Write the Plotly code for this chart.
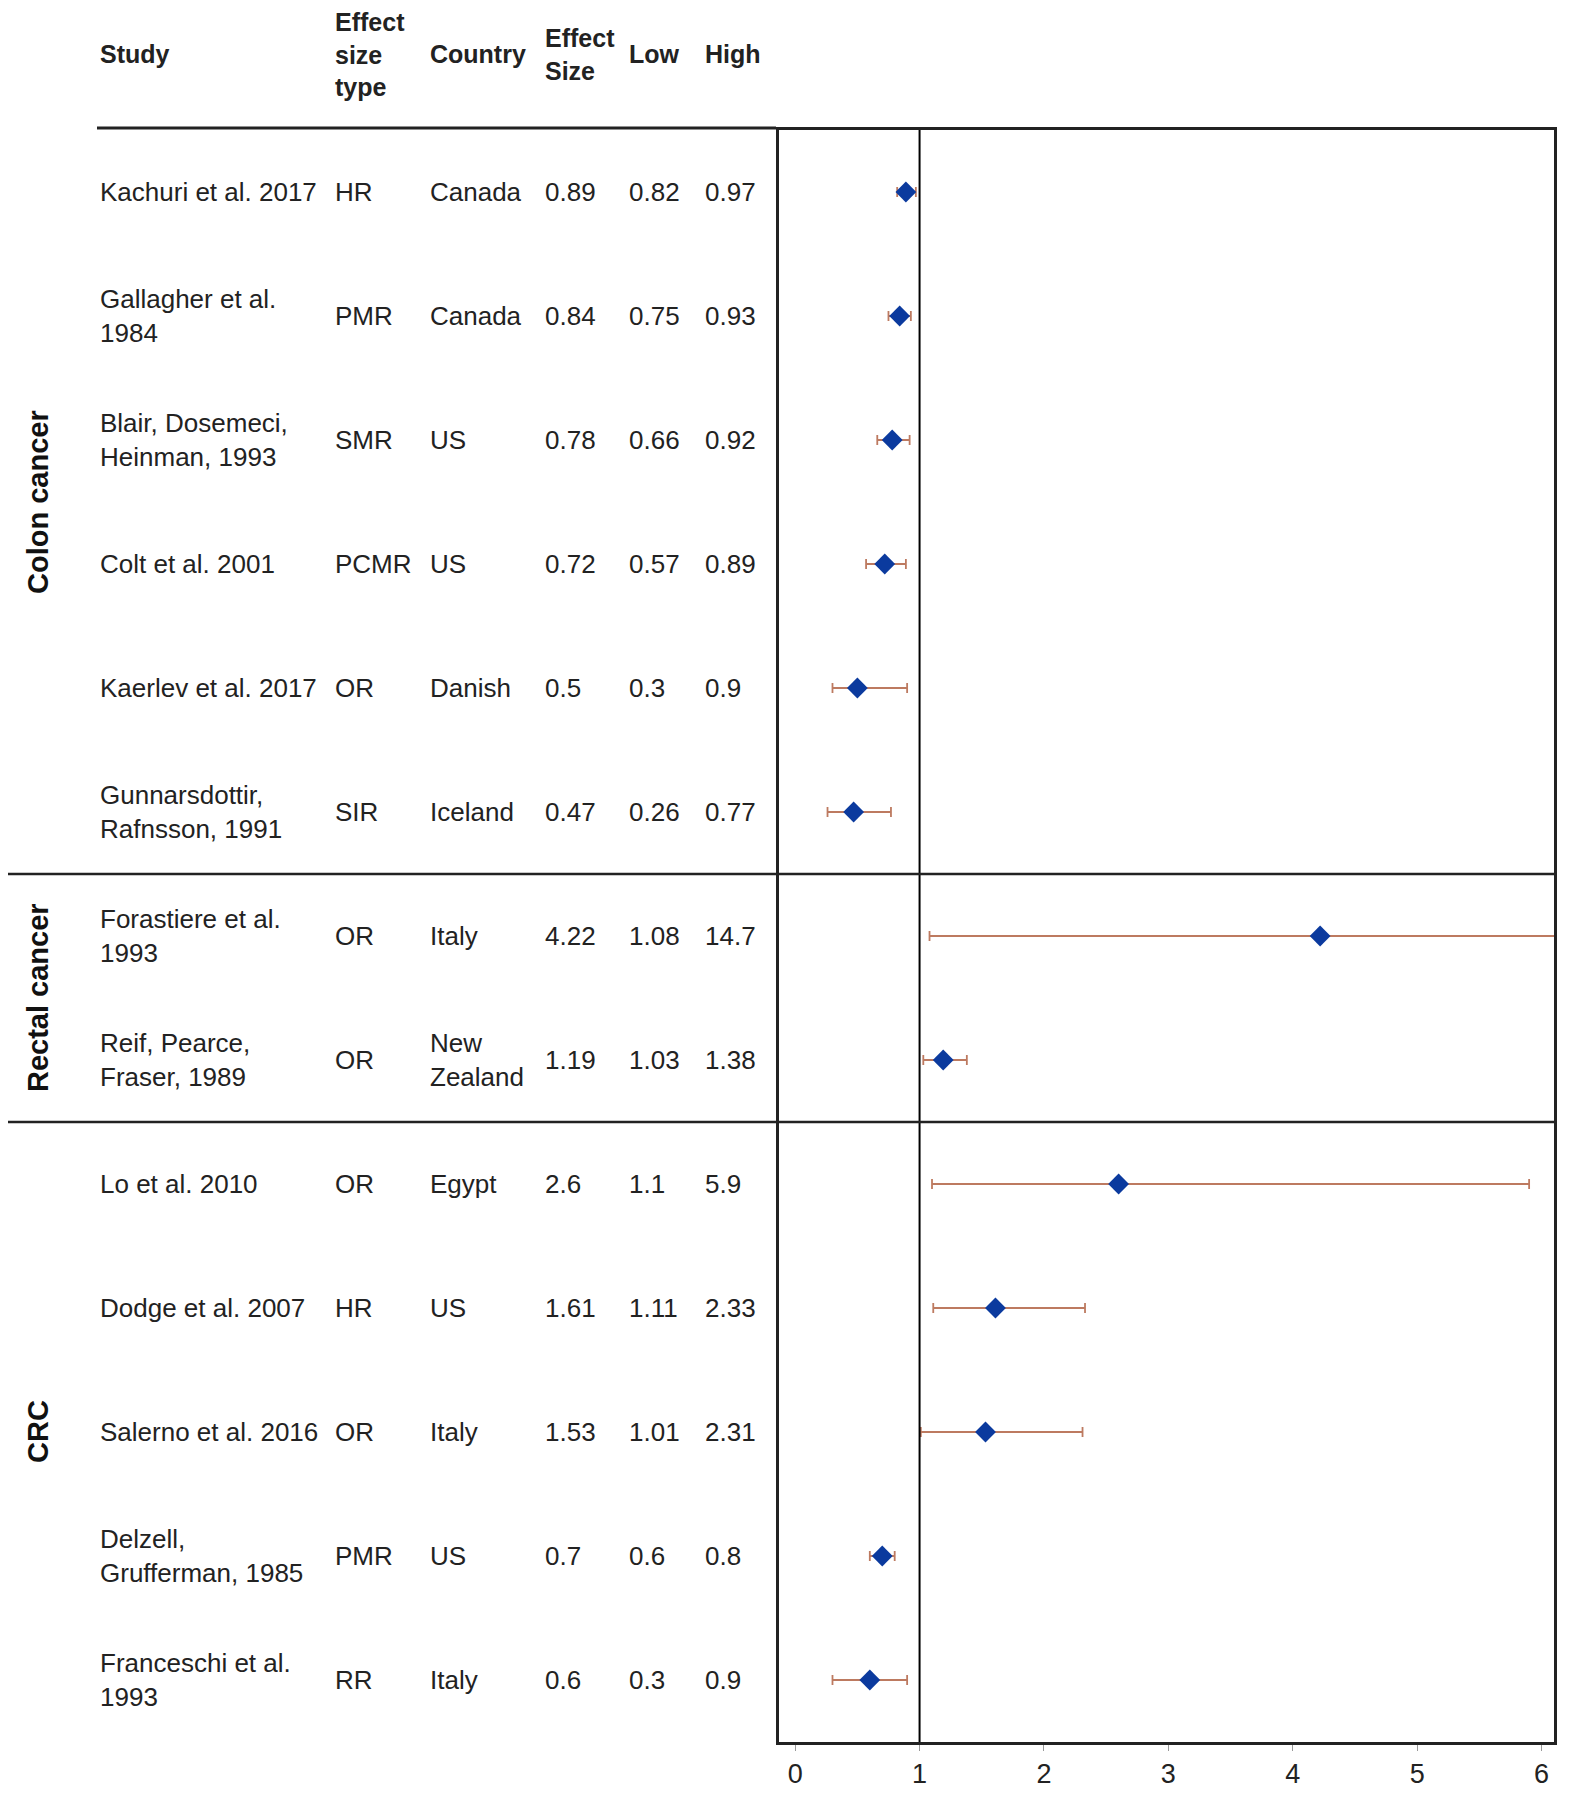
# Forest plot: occupational exposure and colorectal cancer studies
import plotly.graph_objects as go

# -------------------
# Data
# -------------------
studies = [
    "Kachuri et al. 2017", "Gallagher et al.<br>1984", "Blair, Dosemeci,<br>Heinman, 1993",
    "Colt et al. 2001", "Kaerlev et al. 2017", "Gunnarsdottir,<br>Rafnsson, 1991",
    "Forastiere et al.<br>1993", "Reif, Pearce,<br>Fraser, 1989",
    "Lo et al. 2010", "Dodge et al. 2007", "Salerno et al. 2016",
    "Delzell,<br>Grufferman, 1985", "Franceschi et al.<br>1993",
]
es_type = ["HR", "PMR", "SMR", "PCMR", "OR", "SIR", "OR", "OR", "OR", "HR", "OR", "PMR", "RR"]
country = ["Canada", "Canada", "US", "US", "Danish", "Iceland", "Italy", "New<br>Zealand",
           "Egypt", "US", "Italy", "US", "Italy"]
effect = [0.89, 0.84, 0.78, 0.72, 0.5, 0.47, 4.22, 1.19, 2.6, 1.61, 1.53, 0.7, 0.6]
low = [0.82, 0.75, 0.66, 0.57, 0.3, 0.26, 1.08, 1.03, 1.1, 1.11, 1.01, 0.6, 0.3]
high = [0.97, 0.93, 0.92, 0.89, 0.9, 0.77, 14.7, 1.38, 5.9, 2.33, 2.31, 0.8, 0.9]
effect_txt = ["0.89", "0.84", "0.78", "0.72", "0.5", "0.47", "4.22", "1.19", "2.6", "1.61", "1.53", "0.7", "0.6"]
low_txt = ["0.82", "0.75", "0.66", "0.57", "0.3", "0.26", "1.08", "1.03", "1.1", "1.11", "1.01", "0.6", "0.3"]
high_txt = ["0.97", "0.93", "0.92", "0.89", "0.9", "0.77", "14.7", "1.38", "5.9", "2.33", "2.31", "0.8", "0.9"]

groups = ["Colon cancer", "Rectal cancer", "CRC"]
group_rows = [(0, 5), (6, 7), (8, 12)]

rows = list(range(len(studies)))

# page body has an 8px margin, so positions below are shifted back by OFF
OFF = 8
W, H = 1570 - 2 * OFF, 1800 - 2 * OFF
FONT = "Liberation Sans, Arial, sans-serif"
TXT = "#222222"


def px(v):
    return (v - OFF) / W


def py(v):
    return 1 - (v - OFF) / H


fig = go.Figure()

fig.add_trace(go.Scatter(
    x=effect, y=rows, mode="markers",
    marker=dict(symbol="diamond", size=16, color="#0b3a9e"),
    error_x=dict(type="data", symmetric=False,
                 array=[h - e for h, e in zip(high, effect)],
                 arrayminus=[e - l for e, l in zip(effect, low)],
                 color="#bd7a60", thickness=1.8, width=5),
    showlegend=False, cliponaxis=True,
))

# -------------------
# Table text
# -------------------
col_x = [98, 333, 428, 543, 627, 703]
columns = [studies, es_type, country, effect_txt, low_txt, high_txt]
ann = []
for cx, col in zip(col_x, columns):
    for r, t in zip(rows, col):
        ann.append(dict(x=px(cx), y=r, xref="paper", yref="y", text=t, showarrow=False,
                        xanchor="left", yanchor="middle", align="left",
                        font=dict(size=26, color=TXT, family=FONT)))

headers = ["<b>Study</b>", "<b>Effect<br>size<br>type</b>", "<b>Country</b>",
           "<b>Effect<br>Size</b>", "<b>Low</b>", "<b>High</b>"]
for cx, t in zip(col_x, headers):
    ann.append(dict(x=px(cx), y=py(54), xref="paper", yref="paper", text=t, showarrow=False,
                    xanchor="left", yanchor="middle", align="left",
                    font=dict(size=25, color=TXT, family=FONT)))

for g, (a, b) in zip(groups, group_rows):
    ann.append(dict(x=px(38), y=(a + b) / 2, xref="paper", yref="y", text="<b>" + g + "</b>",
                    showarrow=False, textangle=-90, xanchor="center", yanchor="middle",
                    font=dict(size=29, color="#111111", family=FONT)))

# -------------------
# Lines
# -------------------
shapes = [
    # header rule
    dict(type="line", xref="paper", yref="paper", x0=px(97), x1=px(776), y0=py(128), y1=py(128),
         line=dict(color="#222222", width=3)),
    # reference line at 1
    dict(type="line", xref="x", yref="y", x0=1, x1=1, y0=-0.5, y1=12.5,
         line=dict(color="black", width=2)),
]
for yv in [5.5, 7.5]:
    shapes.append(dict(type="line", xref="paper", yref="y", x0=px(OFF), x1=px(1554), y0=yv, y1=yv,
                       line=dict(color="#222222", width=2.5)))

fig.update_layout(
    width=W, height=H,
    margin=dict(l=0, r=0, t=0, b=0),
    plot_bgcolor="white", paper_bgcolor="white",
    annotations=ann, shapes=shapes,
    xaxis=dict(domain=[px(779), px(1554)], range=[-0.13, 6.1], automargin=False,
               tickvals=[0, 1, 2, 3, 4, 5, 6], ticks="outside", ticklen=6, tickcolor="#999999",
               showgrid=False, zeroline=False, showline=True, mirror=True,
               linecolor="#222222", linewidth=2.5,
               tickfont=dict(size=27, color=TXT, family=FONT)),
    yaxis=dict(domain=[py(1742), py(130)], range=[12.5, -0.5], automargin=False,
               showticklabels=False, ticks="", showgrid=False, zeroline=False,
               showline=True, mirror=True, linecolor="#222222", linewidth=2.5),
)

fig.write_html("out.html")
